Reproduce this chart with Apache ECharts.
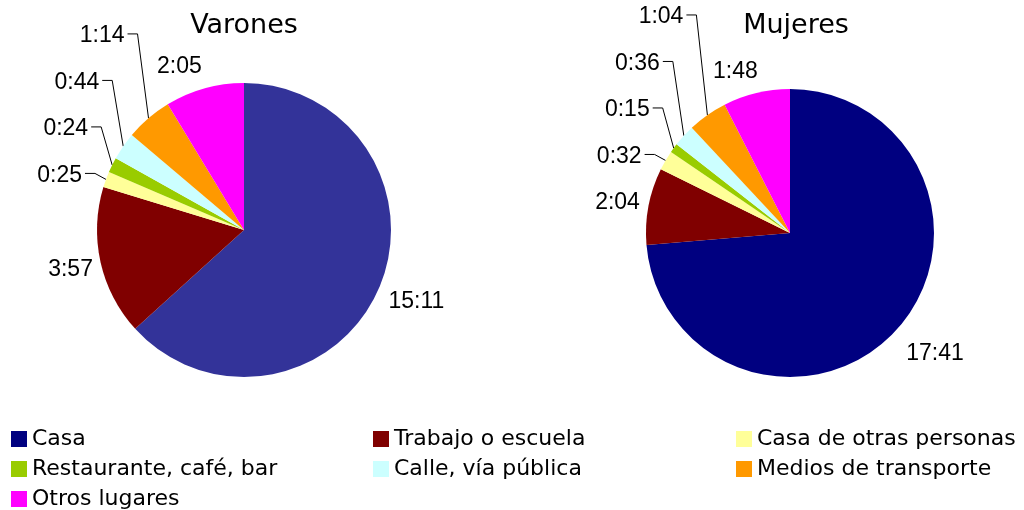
<!DOCTYPE html>
<html>
<head>
<meta charset="utf-8">
<script src="https://cdn.jsdelivr.net/npm/echarts@6/dist/echarts.min.js"></script>
<style>html,body{margin:0;padding:0;background:#fff}#c{width:1024px;height:510px}</style>
</head>
<body>
<div id="c"></div>
<script>
// ---- data ----
const categories = ['Casa', 'Trabajo o escuela', 'Casa de otras personas', 'Restaurante, café, bar', 'Calle, vía pública', 'Medios de transporte', 'Otros lugares'];
const varonesMinutes = [911, 237, 25, 24, 44, 74, 125];   // 15:11, 3:57, 0:25, 0:24, 0:44, 1:14, 2:05
const mujeresMinutes = [1061, 124, 32, 15, 36, 64, 108];  // 17:41, 2:04, 0:32, 0:15, 0:36, 1:04, 1:48
const titles = ['Varones', 'Mujeres'];

// ---- styles / layout ----
const varonesColors = ['#333399', '#800000', '#FFFF99', '#99CC00', '#CCFFFF', '#FF9900', '#FF00FF'];
const mujeresColors = ['#000080', '#800000', '#FFFF99', '#99CC00', '#CCFFFF', '#FF9900', '#FF00FF'];
const legendColors = mujeresColors;
const leaderIdx = [2, 3, 4, 5];
const varonesCenter = [244, 230], varonesRadius = 147;
const mujeresCenter = [790, 233], mujeresRadius = 144;
const varonesBigOffset = {0: [38, 12], 1: [-30, 8], 6: [-25, -22]};
const mujeresBigOffset = {0: [39, 23], 1: [-31, -3], 6: [-21, -21]};
const legendPos = [[11, 428], [373, 428], [736, 428], [11, 458], [373, 458], [736, 458], [11, 488]];

function fmt(v) { const h = Math.floor(v / 60), m = v % 60; return h + ':' + (m < 10 ? '0' : '') + m; }

function sliceGeom(values, center, r) {
  const total = values.reduce((a, b) => a + b, 0);
  let cum = 0;
  return values.map(v => {
    const mid = (cum + v / 2) / total * 2 * Math.PI;
    cum += v;
    const dx = Math.sin(mid), dy = -Math.cos(mid);
    return {x: center[0] + r * dx, y: center[1] + r * dy};
  });
}

function makeLayout(values, center, r, bigOffset) {
  const geom = sliceGeom(values, center, r);
  return function (params) {
    const i = params.dataIndex;
    const g = geom[i];
    const k = leaderIdx.indexOf(i);
    if (k < 0) {
      const o = bigOffset[i];
      return {x: g.x + o[0], y: g.y + o[1], align: 'center', verticalAlign: 'middle'};
    }
    const y = geom[leaderIdx[0]].y - 4 - k * 46.5;
    const right = g.x - 24;
    return {
      x: right, y: y, align: 'right', verticalAlign: 'middle',
      labelLinePoints: [[g.x, g.y], [right + 13, y - 2], [right + 3, y - 2]]
    };
  };
}

function buildData(values, colors) {
  return categories.map((name, i) => ({
    name: name,
    value: values[i],
    itemStyle: {color: colors[i]},
    labelLine: {show: leaderIdx.indexOf(i) >= 0}
  }));
}

function pieSeries(name, values, colors, center, r, bigOffset) {
  return {
    name: name,
    type: 'pie',
    center: center,
    radius: r,
    startAngle: 90,
    clockwise: true,
    avoidLabelOverlap: false,
    animation: false,
    silent: true,
    itemStyle: {borderWidth: 0},
    label: {
      show: true, position: 'outside',
      formatter: p => fmt(p.value),
      fontFamily: 'Liberation Sans', fontSize: 23, color: '#000'
    },
    labelLine: {show: true, length: 10, length2: 10, lineStyle: {color: '#000', width: 1}},
    labelLayout: makeLayout(values, center, r, bigOffset),
    data: buildData(values, colors)
  };
}

const chart = echarts.init(document.getElementById('c'), null, {renderer: 'canvas'});
chart.setOption({
  backgroundColor: '#fff',
  animation: false,
  graphic: [
    {type: 'text', x: varonesCenter[0], y: 26, style: {text: titles[0], align: 'center', verticalAlign: 'middle', fontFamily: 'DejaVu Sans', fontSize: 27, fill: '#000'}},
    {type: 'text', x: 796, y: 26, style: {text: titles[1], align: 'center', verticalAlign: 'middle', fontFamily: 'DejaVu Sans', fontSize: 27, fill: '#000'}}
  ],
  legend: categories.map((name, i) => ({
    data: [{name: name, itemStyle: {color: legendColors[i]}}],
    left: legendPos[i][0], top: legendPos[i][1],
    padding: 0, itemWidth: 16, itemHeight: 16, icon: 'rect',
    selectedMode: false,
    textStyle: {fontFamily: 'DejaVu Sans', fontSize: 22, color: '#000'}
  })),
  series: [
    pieSeries(titles[0], varonesMinutes, varonesColors, varonesCenter, varonesRadius, varonesBigOffset),
    pieSeries(titles[1], mujeresMinutes, mujeresColors, mujeresCenter, mujeresRadius, mujeresBigOffset)
  ]
});
</script>
</body>
</html>
